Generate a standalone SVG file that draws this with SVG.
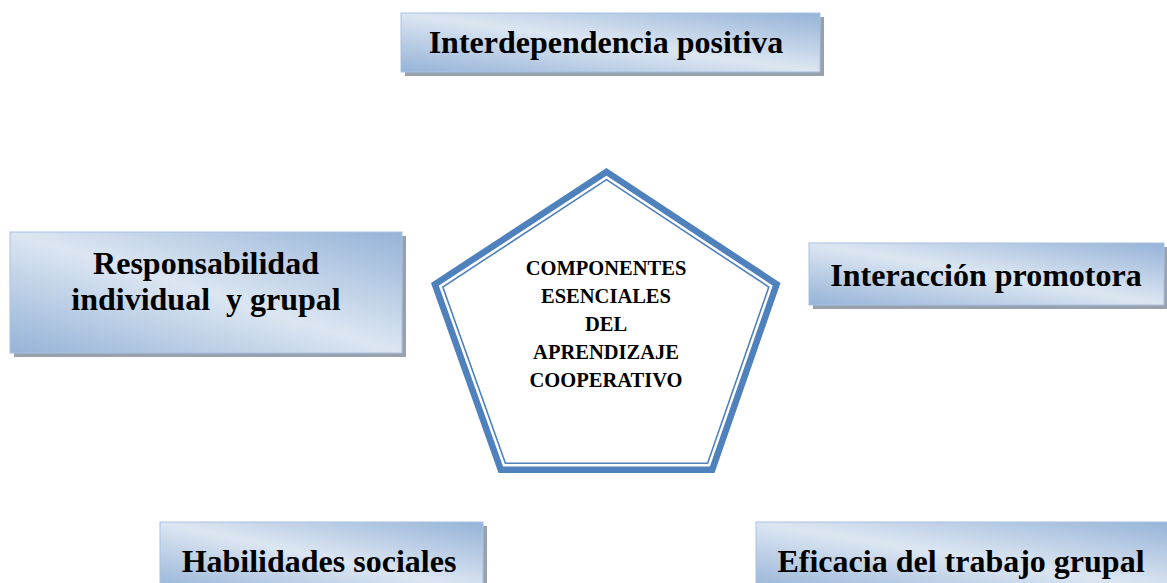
<svg xmlns="http://www.w3.org/2000/svg" width="1167" height="583" viewBox="0 0 1167 583">
  <defs>
    <linearGradient id="boxGrad" x1="0" y1="1" x2="1" y2="0">
      <stop offset="0" stop-color="#95b3d7"/>
      <stop offset="0.5" stop-color="#dce6f2"/>
      <stop offset="1" stop-color="#95b3d7"/>
    </linearGradient>
    <style>
      .shadow { fill: #98a2ae; }
      .box { fill: url(#boxGrad); stroke: #a9c0e0; stroke-width: 1; }
      .lbl { font-family: "Liberation Serif", "Times New Roman", serif; font-weight: bold; font-size: 32px; fill: #000; text-anchor: middle; }
      .ctr { font-family: "Liberation Serif", "Times New Roman", serif; font-weight: bold; font-size: 20.5px; fill: #000; text-anchor: middle; }
      .thick { fill: #ffffff; stroke: #4f81bd; stroke-width: 6.5; stroke-linejoin: miter; }
      .thin { fill: none; stroke: #4f81bd; stroke-width: 1.6; stroke-linejoin: miter; }
    </style>
  </defs>
  <rect width="1167" height="583" fill="#ffffff"/>

  <g id="connectors"/>

  <g id="node-interdependencia">
    <rect class="shadow" x="405" y="17" width="419" height="59"/>
    <rect class="box" x="401" y="13" width="419" height="59"/>
    <text class="lbl" x="606" y="53">Interdependencia positiva</text>
  </g>

  <g id="node-responsabilidad">
    <rect class="shadow" x="14" y="236" width="392" height="121"/>
    <rect class="box" x="10" y="232" width="392" height="121"/>
    <text class="lbl" x="206" y="274">Responsabilidad</text>
    <text class="lbl" x="206" y="310" style="white-space:pre">individual  y grupal</text>
  </g>

  <g id="node-interaccion">
    <rect class="shadow" x="813" y="247" width="355" height="62"/>
    <rect class="box" x="809" y="243" width="355" height="62"/>
    <text class="lbl" x="986" y="286">Interacción promotora</text>
  </g>

  <g id="node-habilidades">
    <rect class="shadow" x="164" y="526" width="323" height="70"/>
    <rect class="box" x="160" y="522" width="323" height="70"/>
    <text class="lbl" x="319" y="572">Habilidades sociales</text>
  </g>

  <g id="node-eficacia">
    <rect class="box" x="756" y="522" width="420" height="70"/>
    <text class="lbl" x="961" y="572">Eficacia del trabajo grupal</text>
  </g>

  <g id="node-centro">
    <polygon class="thick" points="606.5,171.9 776.6,284.3 712.2,469.75 500.8,469.75 434.9,284.3"/>
    <polygon class="thin" points="606.5,179.7 768.8,287 707.6,463.25 505.4,463.25 442.8,287"/>
    <text class="ctr" x="606" y="275">COMPONENTES</text>
    <text class="ctr" x="606" y="303">ESENCIALES</text>
    <text class="ctr" x="606" y="331">DEL</text>
    <text class="ctr" x="606" y="359">APRENDIZAJE</text>
    <text class="ctr" x="606" y="387">COOPERATIVO</text>
  </g>
</svg>
